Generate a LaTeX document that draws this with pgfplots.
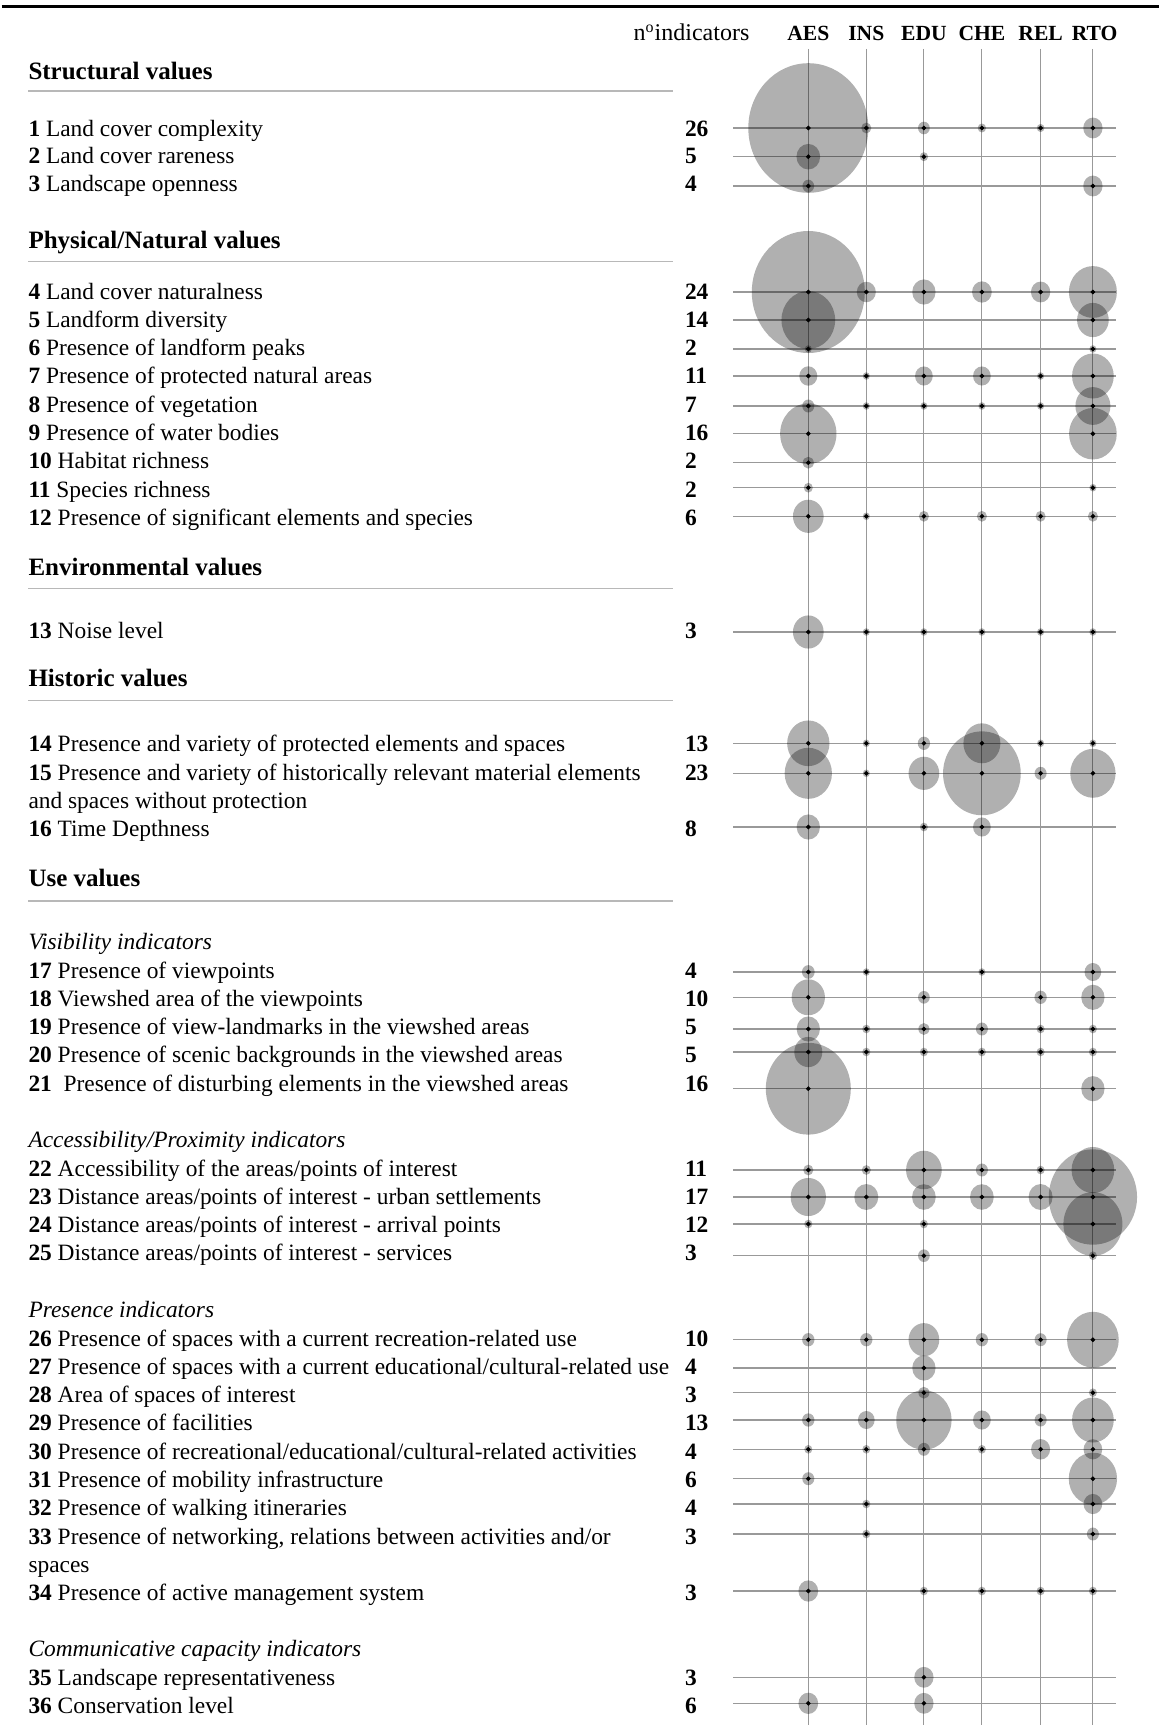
\documentclass[border=0pt]{standalone}
\usepackage{fontspec}
\setmainfont{Liberation Serif}
\usepackage{pgfplots}
\pgfplotsset{compat=1.18}
\usepackage{pgfplotstable}

% bubble diameters in px, 0 = no bubble; y = row position (px from top)
\pgfplotstableread{
row y AES INS EDU CHE REL RTO
1 128 120 10 11.7 8.3 7.5 19.3
2 156.7 23.7 0 8.3 0 0 0
3 186 11.7 0 0 0 0 19.3
4 292 113 19 23.3 19.7 19.3 48
5 320 53.7 0 0 0 0 31.7
6 349 7 0 0 0 0 7
7 376 18 7 17.7 17.7 7 41.7
8 406 12 7 7 7 7 35
9 433.7 56.3 0 0 0 0 47.7
10 462.7 11 0 0 0 0 0
11 487.7 9 0 0 0 0 7
12 516.3 30.7 7 10 10 10 10
13 632 30.7 7 7 7 7 7
14 743.3 42.3 7 12.3 37 7 7
15 773.3 47.3 7 30.7 77.7 12 45.3
16 827 23.3 0 8 17.7 0 0
17 972 12.7 7 0 7 0 16.7
18 997.3 33.3 0 11.7 0 12.3 23.3
19 1029 23.3 8 11 12 8 8
20 1052 28 8 8 8 8 8
21 1088.7 85 0 0 0 0 23.3
22 1170 10 9 35.7 12 8 42.7
23 1197 35.3 24 23.7 23.7 24 88.3
24 1224 8 0 8 0 0 59
25 1255.7 0 0 11.7 0 0 8
26 1339.7 12.3 12.3 30.7 12.3 12 51.7
27 1368 0 0 23.3 0 0 0
28 1392.7 0 0 11 0 0 8
29 1420 12.3 16.7 55.3 17.7 12 41.7
30 1449.3 8 8 12 8 19 18.7
31 1478.7 12 0 0 0 0 48.3
32 1504 0 8 0 0 0 18.7
33 1534 0 8 0 0 0 12
34 1591 19.7 0 8 8 8 8
35 1677.3 0 0 19.3 0 0 0
36 1703.3 19.7 0 19.3 0 0 0
}\bubbles

\newcommand\bodyfont{\fontsize{11.7}{14}\selectfont}
\newcommand\ind[4]{%
  \node[txt] at (axis cs:26.5,#1) {\textbf{#2} #3};
  \node[txt] at (axis cs:683,#1) {\textbf{#4}};}

\pgfplotsset{
  bubble/.style={
    scatter, only marks, mark=*,
    scatter/use mapped color={draw opacity=0, fill=black},
    mark options={yscale=1.08, draw opacity=0, fill=black, fill opacity=0.31},
    visualization depends on={\thisrow{#1}/4 \as \msz},
    scatter/@pre marker code/.append style={/tikz/mark size=\msz, /tikz/draw opacity=0},
    restrict expr to domain={\thisrow{#1}}{1:1000},
  },
  dot/.style={
    only marks, mark=*, mark size=0.95pt, black,
    restrict expr to domain={\thisrow{#1}}{1:1000},
  },
}

\begin{document}
\begin{tikzpicture}[
  txt/.style={anchor=base west, inner sep=0pt, font=\bodyfont},
  head/.style={anchor=base west, inner sep=0pt, font=\fontsize{12.5}{15}\selectfont\bfseries},
  sub/.style={anchor=base west, inner sep=0pt, font=\bodyfont\itshape},
  col/.style={anchor=base, inner sep=0pt, font=\fontsize{10.8}{12}\selectfont\bfseries},
  grid/.style={draw=black!40, line width=0.55pt},
  rul/.style={draw=black!28, line width=0.7pt},
]
\begin{axis}[
  width=578.5pt, height=867pt, scale only axis,
  xmin=0, xmax=1157, ymin=0, ymax=1734, y dir=reverse,
  hide axis, clip=false,
]
\path (rel axis cs:0,0) rectangle (rel axis cs:1,1);
\draw[line width=1.6pt] (axis cs:0,6.5) -- (axis cs:1157,6.5);

% grid
\pgfplotsinvokeforeach{806.7,864.7,922.3,980.3,1039,1091.3}{
  \draw[grid] (axis cs:#1,49) -- (axis cs:#1,1725);
}
\pgfplotsinvokeforeach{128,156.7,186,292,320,349,376,406,433.7,462.7,487.7,516.3,
  632,743.3,773.3,827,972,997.3,1029,1052,1088.7,1170,1197,1224,1255.7,
  1339.7,1368,1392.7,1420,1449.3,1478.7,1504,1534,1591,1677.3,1703.3}{
  \draw[grid] (axis cs:731.7,#1) -- (axis cs:1114,#1);
}

% bubbles
\addplot[bubble=AES] table[x expr=806.7, y=y] {\bubbles};
\addplot[bubble=INS] table[x expr=864.7, y=y] {\bubbles};
\addplot[bubble=EDU] table[x expr=922.3, y=y] {\bubbles};
\addplot[bubble=CHE] table[x expr=980.3, y=y] {\bubbles};
\addplot[bubble=REL] table[x expr=1039, y=y] {\bubbles};
\addplot[bubble=RTO] table[x expr=1091.3, y=y] {\bubbles};

\addplot[dot=AES] table[x expr=806.7, y=y] {\bubbles};
\addplot[dot=INS] table[x expr=864.7, y=y] {\bubbles};
\addplot[dot=EDU] table[x expr=922.3, y=y] {\bubbles};
\addplot[dot=CHE] table[x expr=980.3, y=y] {\bubbles};
\addplot[dot=REL] table[x expr=1039, y=y] {\bubbles};
\addplot[dot=RTO] table[x expr=1091.3, y=y] {\bubbles};

% header
\node[anchor=base west, inner sep=0pt, font=\fontsize{12}{14}\selectfont] at (axis cs:631.7,41) {n\textsuperscript{o}indicators};
\node[col] at (axis cs:806.7,41) {AES};
\node[col] at (axis cs:864.7,41) {INS};
\node[col] at (axis cs:922.3,41) {EDU};
\node[col] at (axis cs:980.3,41) {CHE};
\node[col] at (axis cs:1039,41) {REL};
\node[col] at (axis cs:1093,41) {RTO};

% sections
\node[head] at (axis cs:26.5,79.3) {Structural values};
\draw[rul] (axis cs:26.5,91) -- (axis cs:671,91);
\node[head] at (axis cs:26.5,248.3) {Physical/Natural values};
\draw[rul] (axis cs:26.5,261.7) -- (axis cs:671,261.7);
\node[head] at (axis cs:26.5,575) {Environmental values};
\draw[rul] (axis cs:26.5,588.3) -- (axis cs:671,588.3);
\node[head] at (axis cs:26.5,686.7) {Historic values};
\draw[rul] (axis cs:26.5,700.3) -- (axis cs:671,700.3);
\node[head] at (axis cs:26.5,886.7) {Use values};
\draw[rul] (axis cs:26.5,901) -- (axis cs:671,901);
\node[sub] at (axis cs:26.5,949.3) {Visibility indicators};
\node[sub] at (axis cs:26.5,1147.7) {Accessibility/Proximity indicators};
\node[sub] at (axis cs:26.5,1317.3) {Presence indicators};
\node[sub] at (axis cs:26.5,1656.7) {Communicative capacity indicators};

% indicators
\ind{136}{1}{Land cover complexity}{26}
\ind{163.5}{2}{Land cover rareness}{5}
\ind{191.7}{3}{Landscape openness}{4}
\ind{299}{4}{Land cover naturalness}{24}
\ind{327.3}{5}{Landform diversity}{14}
\ind{355.6}{6}{Presence of landform peaks}{2}
\ind{383.9}{7}{Presence of protected natural areas}{11}
\ind{412.2}{8}{Presence of vegetation}{7}
\ind{440.5}{9}{Presence of water bodies}{16}
\ind{468.8}{10}{Habitat richness}{2}
\ind{497.1}{11}{Species richness}{2}
\ind{525.4}{12}{Presence of significant elements and species}{6}
\ind{638.3}{13}{Noise level}{3}
\ind{751.7}{14}{Presence and variety of protected elements and spaces}{13}
\ind{780}{15}{Presence and variety of historically relevant material elements}{23}
\node[txt] at (axis cs:26.5,808.3) {and spaces without protection};
\ind{836.7}{16}{Time Depthness}{8}
\ind{978}{17}{Presence of viewpoints}{4}
\ind{1006.3}{18}{Viewshed area of the viewpoints}{10}
\ind{1034.6}{19}{Presence of view-landmarks in the viewshed areas}{5}
\ind{1062.9}{20}{Presence of scenic backgrounds in the viewshed areas}{5}
\ind{1091.2}{21}{\ Presence of disturbing elements in the viewshed areas}{16}
\ind{1176}{22}{Accessibility of the areas/points of interest}{11}
\ind{1204.3}{23}{Distance areas/points of interest - urban settlements}{17}
\ind{1232.6}{24}{Distance areas/points of interest - arrival points}{12}
\ind{1260.9}{25}{Distance areas/points of interest - services}{3}
\ind{1346}{26}{Presence of spaces with a current recreation-related use}{10}
\ind{1374.3}{27}{Presence of spaces with a current educational/cultural-related use}{4}
\ind{1402.6}{28}{Area of spaces of interest}{3}
\ind{1430.9}{29}{Presence of facilities}{13}
\ind{1459.2}{30}{Presence of recreational/educational/cultural-related activities}{4}
\ind{1487.5}{31}{Presence of mobility infrastructure}{6}
\ind{1515.8}{32}{Presence of walking itineraries}{4}
\ind{1544.1}{33}{Presence of networking, relations between activities and/or}{3}
\node[txt] at (axis cs:26.5,1572.4) {spaces};
\ind{1600.7}{34}{Presence of active management system}{3}
\ind{1685}{35}{Landscape representativeness}{3}
\ind{1713}{36}{Conservation level}{6}
\end{axis}
\end{tikzpicture}
\end{document}
